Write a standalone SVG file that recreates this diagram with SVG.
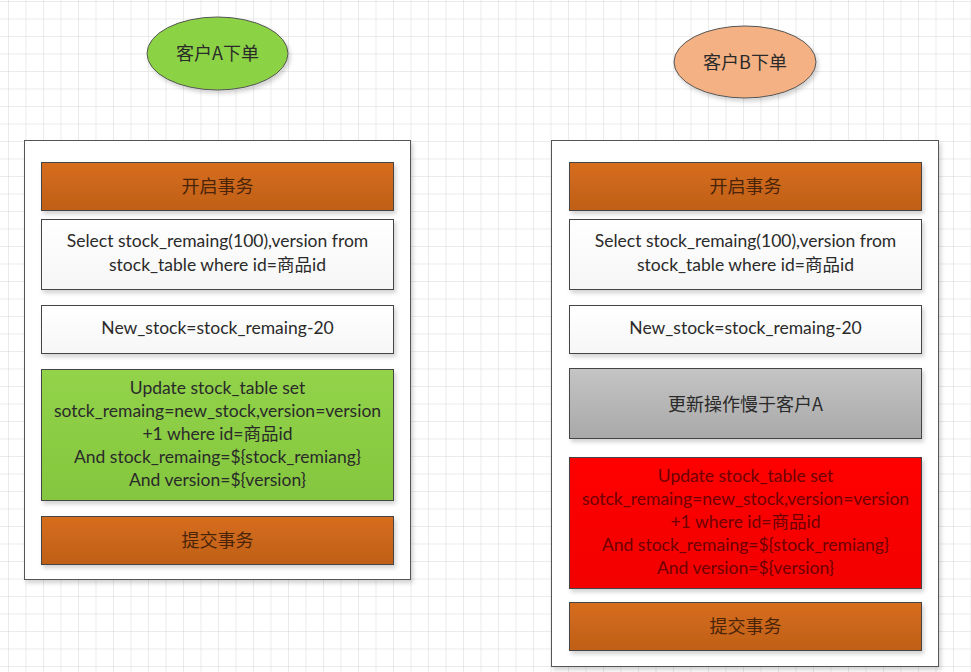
<svg xmlns="http://www.w3.org/2000/svg" width="971" height="672" viewBox="0 0 971 672">
<defs>
<pattern id="grid" x="8" y="1" width="17.5" height="17.5" patternUnits="userSpaceOnUse">
<path d="M0 0 V17.5 M0 0 H17.5" fill="none" stroke="#d8d8d8" stroke-width="1"/>
</pattern>
<linearGradient id="gOrange" x1="0" y1="0" x2="0" y2="1">
<stop offset="0" stop-color="#d66d1c"/><stop offset="1" stop-color="#bf5f18"/>
</linearGradient>
<linearGradient id="gGreen" x1="0" y1="0" x2="0" y2="1">
<stop offset="0" stop-color="#92d34a"/><stop offset="1" stop-color="#84c63e"/>
</linearGradient>
<linearGradient id="gGrey" x1="0" y1="0" x2="0" y2="1">
<stop offset="0" stop-color="#c4c4c4"/><stop offset="1" stop-color="#a9a9a9"/>
</linearGradient>
<linearGradient id="gRed" x1="0" y1="0" x2="0" y2="1">
<stop offset="0" stop-color="#ff0000"/><stop offset="1" stop-color="#f20000"/>
</linearGradient>
<linearGradient id="gWhite" x1="0" y1="0" x2="0" y2="1">
<stop offset="0" stop-color="#ffffff"/><stop offset="1" stop-color="#f6f6f6"/>
</linearGradient>
<filter id="sh" x="-5%" y="-10%" width="110%" height="125%">
<feDropShadow dx="2" dy="3" stdDeviation="2" flood-color="#000" flood-opacity="0.18"/>
</filter>
</defs>
<style>
.panel{fill:#ffffff;stroke:#555;stroke-width:1;}
.box{stroke:#444;stroke-width:1;filter:url(#sh);}
.orange{fill:url(#gOrange);}
.white{fill:url(#gWhite);}
.green{fill:url(#gGreen);}
.grey{fill:url(#gGrey);}
.red{fill:url(#gRed);}
text{font-family:Lato,"Open Sans","Noto Sans CJK SC",sans-serif;font-size:17.5px;text-anchor:middle;fill:#2a2a2a;}
.cjk{font-family:"Noto Sans CJK SC",sans-serif;font-size:18px;}
.tOrange{fill:#4a2408;}
.tRed{fill:#6e0000;}
</style>
<rect width="971" height="672" fill="#ffffff"/>
<rect width="971" height="672" fill="url(#grid)"/>

<g id="connectors"/>

<g id="customerA">
<ellipse cx="217.5" cy="53.5" rx="70.5" ry="36.5" fill="#8cd244" stroke="#555" stroke-width="1" filter="url(#sh)"/>
<text class="cjk" x="217.5" y="60">客户A下单</text>
</g>
<g id="customerB">
<ellipse cx="745" cy="62" rx="71" ry="36" fill="#f4b183" stroke="#555" stroke-width="1" filter="url(#sh)"/>
<text class="cjk" x="745" y="68.5">客户B下单</text>
</g>

<g id="panelA">
<rect class="panel" x="24.5" y="140.5" width="386" height="439" filter="url(#sh)"/>
</g>
<g id="panelB">
<rect class="panel" x="551.5" y="140.5" width="387" height="526" filter="url(#sh)"/>
</g>

<g id="a-begin">
<rect class="box orange" x="41.5" y="162.5" width="352" height="48"/>
<text class="cjk tOrange" x="217.5" y="192.5">开启事务</text>
</g>
<g id="a-select">
<rect class="box white" x="41.5" y="219.5" width="352" height="70"/>
<text x="217.5" y="247">Select stock_remaing(100),version from</text>
<text x="217.5" y="271">stock_table where id=商品id</text>
</g>
<g id="a-new">
<rect class="box white" x="41.5" y="305.5" width="352" height="48"/>
<text x="217.5" y="334">New_stock=stock_remaing-20</text>
</g>
<g id="a-update">
<rect class="box green" x="41.5" y="369.5" width="352" height="131"/>
<text x="217.5" y="394">Update stock_table set</text>
<text x="217.5" y="417">sotck_remaing=new_stock,version=version</text>
<text x="217.5" y="440">+1 where id=商品id</text>
<text x="217.5" y="463">And stock_remaing=${stock_remiang}</text>
<text x="217.5" y="486">And version=${version}</text>
</g>
<g id="a-commit">
<rect class="box orange" x="41.5" y="516.5" width="352" height="48"/>
<text class="cjk tOrange" x="217.5" y="546.5">提交事务</text>
</g>

<g id="b-begin">
<rect class="box orange" x="569.5" y="162.5" width="352" height="48"/>
<text class="cjk tOrange" x="745.5" y="192.5">开启事务</text>
</g>
<g id="b-select">
<rect class="box white" x="569.5" y="219.5" width="352" height="70"/>
<text x="745.5" y="247">Select stock_remaing(100),version from</text>
<text x="745.5" y="271">stock_table where id=商品id</text>
</g>
<g id="b-new">
<rect class="box white" x="569.5" y="305.5" width="352" height="48"/>
<text x="745.5" y="334">New_stock=stock_remaing-20</text>
</g>
<g id="b-slow">
<rect class="box grey" x="569.5" y="368.5" width="352" height="70"/>
<text class="cjk" x="745.5" y="410.5">更新操作慢于客户A</text>
</g>
<g id="b-update">
<rect class="box red" x="569.5" y="457.5" width="352" height="131"/>
<text class="tRed" x="745.5" y="482">Update stock_table set</text>
<text class="tRed" x="745.5" y="505">sotck_remaing=new_stock,version=version</text>
<text class="tRed" x="745.5" y="528">+1 where id=商品id</text>
<text class="tRed" x="745.5" y="551">And stock_remaing=${stock_remiang}</text>
<text class="tRed" x="745.5" y="574">And version=${version}</text>
</g>
<g id="b-commit">
<rect class="box orange" x="569.5" y="602.5" width="352" height="48"/>
<text class="cjk tOrange" x="745.5" y="632.5">提交事务</text>
</g>
</svg>
